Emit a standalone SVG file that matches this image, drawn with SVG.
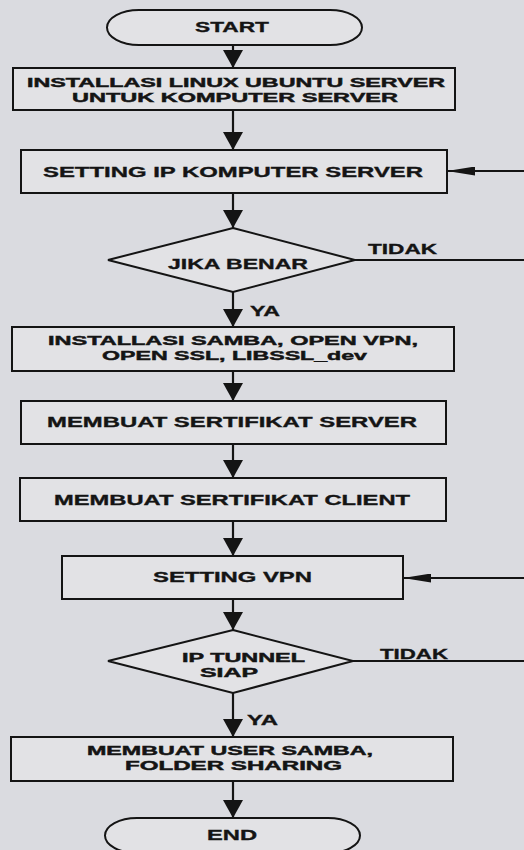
<svg xmlns="http://www.w3.org/2000/svg" width="524" height="850" viewBox="0 0 524 850">
<style>
.bg{fill:#dadbe0}
.shape{fill:#e2e2e5;stroke:#141414;stroke-width:2}
.t{font-family:"Liberation Sans",Arial,sans-serif;font-weight:bold;font-size:15px;fill:#141414;stroke:#141414;stroke-width:0.35}
.t2{font-size:13.2px;stroke-width:0.45}
.c{fill:none;stroke:#141414;stroke-width:2.2}
</style>
<defs>
<marker id="down" viewBox="0 0 18 20" refX="18" refY="10" markerWidth="18" markerHeight="20" markerUnits="userSpaceOnUse" orient="auto">
<path d="M0,0 L18,10 L0,20 z" fill="#141414"/>
</marker>
<marker id="side" viewBox="0 0 28 9" refX="28" refY="4.5" markerWidth="28" markerHeight="9" markerUnits="userSpaceOnUse" orient="auto">
<path d="M0,0 L28,4.5 L0,9 z" fill="#141414"/>
</marker>
</defs>
<rect class="bg" x="0" y="0" width="524" height="850"/>

<g id="connectors">
<line class="c" x1="233" y1="45" x2="233" y2="68" marker-end="url(#down)"/>
<line class="c" x1="233" y1="110" x2="233" y2="150" marker-end="url(#down)"/>
<line class="c" x1="233" y1="193" x2="233" y2="228" marker-end="url(#down)"/>
<line class="c" x1="233" y1="292" x2="233" y2="327" marker-end="url(#down)"/>
<line class="c" x1="233" y1="371" x2="233" y2="401" marker-end="url(#down)"/>
<line class="c" x1="233" y1="444" x2="233" y2="478" marker-end="url(#down)"/>
<line class="c" x1="233" y1="521" x2="233" y2="556" marker-end="url(#down)"/>
<line class="c" x1="233" y1="599" x2="233" y2="630" marker-end="url(#down)"/>
<line class="c" x1="233" y1="693" x2="233" y2="737" marker-end="url(#down)"/>
<line class="c" x1="233" y1="781" x2="233" y2="818" marker-end="url(#down)"/>
<polyline class="c" points="355,260 530,260 530,171 447,171" marker-end="url(#side)"/>
<polyline class="c" points="353,661 530,661 530,578 403,578" marker-end="url(#side)"/>
<text class="t" x="368" y="254" textLength="69" lengthAdjust="spacingAndGlyphs">TIDAK</text>
<text class="t" x="250" y="316" textLength="30" lengthAdjust="spacingAndGlyphs">YA</text>
<text class="t" x="380" y="659" textLength="68" lengthAdjust="spacingAndGlyphs">TIDAK</text>
<text class="t" x="247" y="725" textLength="31" lengthAdjust="spacingAndGlyphs">YA</text>
</g>

<g id="start">
<rect class="shape" x="107" y="10" width="255" height="35" rx="32" ry="17.5"/>
<text class="t" x="195" y="32" textLength="74" lengthAdjust="spacingAndGlyphs">START</text>
</g>
<g id="install-linux">
<rect class="shape" x="13" y="68" width="442" height="42"/>
<text class="t t2" x="27" y="87" textLength="418" lengthAdjust="spacingAndGlyphs">INSTALLASI LINUX UBUNTU SERVER</text>
<text class="t t2" x="72" y="102" textLength="326" lengthAdjust="spacingAndGlyphs">UNTUK KOMPUTER SERVER</text>
</g>
<g id="setting-ip">
<rect class="shape" x="21" y="150" width="426" height="43"/>
<text class="t" x="43" y="177" textLength="380" lengthAdjust="spacingAndGlyphs">SETTING IP KOMPUTER SERVER</text>
</g>
<g id="jika-benar">
<polygon class="shape" points="233,228 355,260 233,292 108,260"/>
<text class="t" x="168" y="269" textLength="140" lengthAdjust="spacingAndGlyphs">JIKA BENAR</text>
</g>
<g id="install-samba">
<rect class="shape" x="12" y="327" width="442" height="44"/>
<text class="t t2" x="48" y="345" textLength="370" lengthAdjust="spacingAndGlyphs">INSTALLASI SAMBA, OPEN VPN,</text>
<text class="t t2" x="102" y="360" textLength="265" lengthAdjust="spacingAndGlyphs">OPEN SSL, LIBSSL_dev</text>
</g>
<g id="sertifikat-server">
<rect class="shape" x="21" y="401" width="425" height="43"/>
<text class="t" x="47" y="427" textLength="370" lengthAdjust="spacingAndGlyphs">MEMBUAT SERTIFIKAT SERVER</text>
</g>
<g id="sertifikat-client">
<rect class="shape" x="20" y="478" width="426" height="43"/>
<text class="t" x="54" y="505" textLength="356" lengthAdjust="spacingAndGlyphs">MEMBUAT SERTIFIKAT CLIENT</text>
</g>
<g id="setting-vpn">
<rect class="shape" x="62" y="556" width="341" height="43"/>
<text class="t" x="153" y="582" textLength="159" lengthAdjust="spacingAndGlyphs">SETTING VPN</text>
</g>
<g id="ip-tunnel">
<polygon class="shape" points="233,630 353,661 233,693 108,661"/>
<text class="t t2" x="182" y="662" textLength="123" lengthAdjust="spacingAndGlyphs">IP TUNNEL</text>
<text class="t t2" x="200" y="677" textLength="58" lengthAdjust="spacingAndGlyphs">SIAP</text>
</g>
<g id="user-samba">
<rect class="shape" x="11" y="737" width="442" height="44"/>
<text class="t t2" x="87" y="755" textLength="286" lengthAdjust="spacingAndGlyphs">MEMBUAT USER SAMBA,</text>
<text class="t t2" x="125" y="770" textLength="217" lengthAdjust="spacingAndGlyphs">FOLDER SHARING</text>
</g>
<g id="end">
<rect class="shape" x="105" y="818" width="255" height="35" rx="32" ry="17.5"/>
<text class="t" x="207" y="840" textLength="50" lengthAdjust="spacingAndGlyphs">END</text>
</g>
</svg>
